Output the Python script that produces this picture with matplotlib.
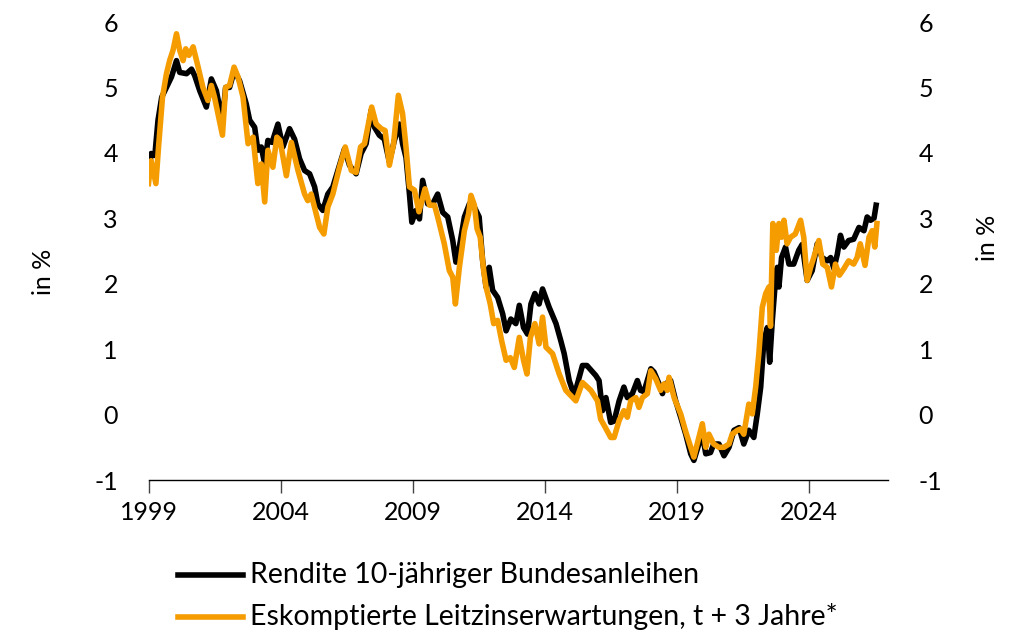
import matplotlib
matplotlib.use("Agg")
import matplotlib.pyplot as plt
from matplotlib.lines import Line2D

plt.rcParams['font.family'] = ['Lato', 'DejaVu Sans']

# --- data (decimal years, percent) ---
bund_t = [1999.0, 1999.1, 1999.24, 1999.36, 1999.5, 1999.68, 1999.87, 2000.06, 2000.18, 2000.44,
          2000.63, 2000.75, 2000.94, 2001.19, 2001.38, 2001.57, 2001.7, 2001.8, 2001.92, 2002.07,
          2002.25, 2002.45, 2002.7, 2002.83, 2003.02, 2003.14, 2003.27, 2003.4, 2003.52, 2003.68,
          2003.9, 2004.09, 2004.34, 2004.53, 2004.72, 2004.91, 2005.1, 2005.29, 2005.41, 2005.6,
          2005.79, 2005.98, 2006.17, 2006.42, 2006.61, 2006.86, 2007.05, 2007.24, 2007.43, 2007.56,
          2007.74, 2007.93, 2008.12, 2008.31, 2008.5, 2008.62, 2008.75, 2008.88, 2008.97, 2009.13,
          2009.26, 2009.38, 2009.57, 2009.76, 2009.95, 2010.14, 2010.33, 2010.52, 2010.64, 2010.77,
          2010.96, 2011.15, 2011.34, 2011.52, 2011.65, 2011.78, 2011.9, 2012.03, 2012.22, 2012.41,
          2012.54, 2012.72, 2012.91, 2013.04, 2013.2, 2013.35, 2013.48, 2013.63, 2013.79, 2013.92,
          2014.17, 2014.43, 2014.61, 2014.74, 2014.93, 2015.12, 2015.43, 2015.6, 2015.93, 2016.06,
          2016.19, 2016.32, 2016.5, 2016.63, 2016.82, 2017.0, 2017.13, 2017.32, 2017.51, 2017.63,
          2017.76, 2018.02, 2018.14, 2018.33, 2018.46, 2018.58, 2018.77, 2018.96, 2019.15, 2019.34,
          2019.53, 2019.65, 2019.84, 2019.97, 2020.1, 2020.28, 2020.4, 2020.6, 2020.79, 2020.98,
          2021.17, 2021.36, 2021.54, 2021.73, 2021.92, 2022.05, 2022.18, 2022.3, 2022.43, 2022.52,
          2022.62, 2022.72, 2022.81, 2022.87, 2022.97, 2023.12, 2023.25, 2023.43, 2023.62, 2023.75,
          2023.94, 2024.13, 2024.32, 2024.5, 2024.7, 2024.83, 2024.95, 2025.08, 2025.2, 2025.33,
          2025.51, 2025.7, 2025.9, 2026.09, 2026.21, 2026.34, 2026.47, 2026.55]
bund_v = [3.65, 3.99, 3.96, 4.5, 4.85, 5.0, 5.16, 5.41, 5.23, 5.21,
          5.28, 5.18, 4.95, 4.7, 5.13, 4.95, 4.68, 4.5, 5.0, 5.0,
          5.26, 5.1, 4.75, 4.5, 4.39, 4.04, 4.09, 3.83, 4.19, 4.16,
          4.44, 4.09, 4.37, 4.21, 3.91, 3.73, 3.68, 3.48, 3.22, 3.12,
          3.37, 3.48, 3.73, 4.06, 3.81, 3.68, 3.99, 4.14, 4.65, 4.39,
          4.27, 4.21, 3.86, 4.19, 4.44, 4.14, 3.93, 3.37, 2.94, 3.12,
          2.99, 3.58, 3.22, 3.22, 3.37, 3.09, 3.02, 2.66, 2.33, 2.56,
          3.02, 3.22, 3.17, 3.02, 2.36, 1.95, 2.25, 1.9, 1.79, 1.54,
          1.28, 1.46, 1.39, 1.67, 1.33, 1.23, 1.69, 1.85, 1.69, 1.92,
          1.64, 1.39, 1.13, 0.93, 0.52, 0.29, 0.75, 0.75, 0.6, 0.52,
          0.06, 0.26, -0.12, -0.1, 0.21, 0.42, 0.26, 0.32, 0.52, 0.37,
          0.35, 0.7, 0.65, 0.47, 0.32, 0.47, 0.52, 0.21, -0.04, -0.3,
          -0.6, -0.7, -0.45, -0.3, -0.6, -0.58, -0.45, -0.45, -0.63, -0.5,
          -0.24, -0.2, -0.45, -0.24, -0.35, 0.01, 0.42, 1.13, 1.33, 0.8,
          1.44, 1.95, 2.25, 1.95, 2.4, 2.56, 2.3, 2.3, 2.51, 2.6,
          2.05, 2.2, 2.61, 2.4, 2.35, 2.4, 2.23, 2.45, 2.74, 2.56,
          2.66, 2.68, 2.86, 2.81, 3.02, 2.97, 3.0, 3.2]

exp_t = [1999.0, 1999.1, 1999.28, 1999.38, 1999.53, 1999.68, 1999.8, 1999.93, 2000.06, 2000.18,
         2000.31, 2000.41, 2000.53, 2000.69, 2000.88, 2001.06, 2001.25, 2001.38, 2001.5, 2001.63,
         2001.8, 2001.92, 2002.07, 2002.24, 2002.39, 2002.58, 2002.77, 2002.96, 2003.14, 2003.27,
         2003.4, 2003.52, 2003.71, 2003.86, 2003.98, 2004.22, 2004.41, 2004.66, 2004.91, 2005.03,
         2005.16, 2005.35, 2005.48, 2005.64, 2005.79, 2005.98, 2006.23, 2006.45, 2006.68, 2006.86,
         2007.03, 2007.18, 2007.45, 2007.62, 2007.81, 2007.96, 2008.12, 2008.28, 2008.46, 2008.62,
         2008.75, 2008.88, 2009.07, 2009.24, 2009.47, 2009.64, 2009.83, 2009.95, 2010.08, 2010.2,
         2010.39, 2010.52, 2010.62, 2010.77, 2010.96, 2011.12, 2011.21, 2011.34, 2011.44, 2011.56,
         2011.69, 2011.78, 2011.94, 2012.07, 2012.22, 2012.37, 2012.54, 2012.7, 2012.85, 2013.04,
         2013.2, 2013.33, 2013.46, 2013.63, 2013.79, 2013.92, 2014.05, 2014.3, 2014.55, 2014.8,
         2015.18, 2015.43, 2015.75, 2016.0, 2016.12, 2016.3, 2016.5, 2016.63, 2016.82, 2017.0,
         2017.13, 2017.26, 2017.45, 2017.57, 2017.7, 2017.89, 2018.02, 2018.2, 2018.39, 2018.52,
         2018.64, 2018.71, 2018.9, 2019.15, 2019.34, 2019.53, 2019.65, 2019.84, 2019.97, 2020.1,
         2020.22, 2020.4, 2020.6, 2020.79, 2020.98, 2021.1, 2021.3, 2021.42, 2021.54, 2021.73,
         2021.86, 2021.99, 2022.11, 2022.24, 2022.37, 2022.49, 2022.55, 2022.64, 2022.77, 2022.87,
         2022.97, 2023.06, 2023.18, 2023.31, 2023.49, 2023.69, 2023.81, 2023.94, 2024.07, 2024.19,
         2024.38, 2024.53, 2024.7, 2024.86, 2025.01, 2025.16, 2025.33, 2025.51, 2025.7, 2025.83,
         2025.95, 2026.13, 2026.28, 2026.4, 2026.5, 2026.58]
exp_v = [3.53, 3.88, 3.53, 4.09, 4.85, 5.21, 5.41, 5.57, 5.82, 5.57,
         5.41, 5.59, 5.49, 5.62, 5.31, 5.0, 4.8, 5.03, 4.85, 4.6,
         4.27, 5.0, 5.03, 5.31, 5.16, 4.85, 4.14, 4.24, 3.53, 3.83,
         3.25, 4.04, 3.78, 4.24, 4.19, 3.65, 4.16, 3.73, 3.37, 3.27,
         3.37, 3.07, 2.86, 2.76, 3.17, 3.37, 3.78, 4.09, 3.73, 3.7,
         4.09, 4.14, 4.7, 4.44, 4.37, 4.34, 3.81, 4.14, 4.88, 4.6,
         4.09, 3.48, 3.43, 3.1, 3.45, 3.2, 3.2, 3.02, 2.81, 2.61,
         2.2, 2.1, 1.69, 2.25, 2.81, 3.07, 3.35, 3.2, 2.84, 2.71,
         2.2, 1.95, 1.69, 1.39, 1.44, 1.13, 0.83, 0.87, 0.72, 1.18,
         0.83, 0.62, 1.18, 1.39, 1.08, 1.49, 1.03, 0.93, 0.62, 0.37,
         0.21, 0.49, 0.37, 0.21, -0.07, -0.2, -0.35, -0.35, -0.09, 0.06,
         -0.04, 0.21, 0.26, 0.11, 0.26, 0.32, 0.67, 0.55, 0.37, 0.47,
         0.37, 0.57, 0.26, 0.01, -0.26, -0.5, -0.65, -0.35, -0.14, -0.5,
         -0.3, -0.45, -0.5, -0.5, -0.45, -0.3, -0.24, -0.22, -0.3, 0.16,
         0.01, 0.42, 0.93, 1.64, 1.85, 1.95, 1.35, 2.92, 2.51, 2.92,
         2.71, 2.97, 2.61, 2.71, 2.76, 2.97, 2.71, 2.05, 2.25, 2.4,
         2.66, 2.3, 2.25, 1.95, 2.3, 2.13, 2.23, 2.35, 2.3, 2.4,
         2.61, 2.28, 2.71, 2.81, 2.56, 2.92]

year_ticks = [1999, 2004, 2009, 2014, 2019, 2024]
y_ticks = [-1, 0, 1, 2, 3, 4, 5, 6]
label_bund = "Rendite 10-jähriger Bundesanleihen"
label_exp = "Eskomptierte Leitzinserwartungen, t + 3 Jahre*"
y_title = "in %"

BLACK = "#000000"
ORANGE = "#F59C00"
W, H = 1021, 633
LW = 4.0
TICK_FS = 18
LEG_FS = 20.5

fig = plt.figure(figsize=(W / 100, H / 100), dpi=100)
ax = fig.add_axes([148.5 / W, 1 - 480 / H, (888 - 148.5) / W, (480 - 22) / H])

ax.plot(bund_t, bund_v, color=BLACK, lw=LW, solid_joinstyle='round', zorder=2)
ax.plot(exp_t, exp_v, color=ORANGE, lw=LW, solid_joinstyle='round', zorder=3)

ax.set_xlim(1999, 2027)
ax.set_ylim(-1, 6)
ax.set_xticks(year_ticks)
ax.set_xticklabels([str(y) for y in year_ticks])
ax.set_yticks(y_ticks)
ax.set_yticklabels([str(v) for v in y_ticks])

for s in ['top', 'left', 'right']:
    ax.spines[s].set_visible(False)
ax.spines['bottom'].set_linewidth(1.0)
ax.tick_params(axis='x', direction='out', length=9, width=1.0, labelsize=TICK_FS, pad=6, color='#444444')
ax.tick_params(axis='y', length=0, labelsize=TICK_FS, pad=22)

ax2 = ax.twinx()
ax2.set_ylim(ax.get_ylim())
ax2.set_yticks(y_ticks)
ax2.set_yticklabels([str(v) for v in y_ticks])
ax2.tick_params(axis='y', length=0, labelsize=TICK_FS, pad=22)
for s in ['top', 'left', 'right', 'bottom']:
    ax2.spines[s].set_visible(False)

fig.text(43 / W, 1 - 272 / H, y_title, rotation=90, ha='center', va='center', fontsize=TICK_FS)
fig.text(987 / W, 1 - 238 / H, y_title, rotation=90, ha='center', va='center', fontsize=TICK_FS)

# legend drawn in figure pixels
for yy, col, lab in [(575, BLACK, label_bund), (617, ORANGE, label_exp)]:
    fig.add_artist(Line2D([178 / W, 243 / W], [1 - yy / H, 1 - yy / H], color=col, lw=LW,
                          transform=fig.transFigure))
    fig.text(250 / W, 1 - yy / H, lab, ha='left', va='center', fontsize=LEG_FS)

fig.savefig("out.png", dpi=100, facecolor='white')
